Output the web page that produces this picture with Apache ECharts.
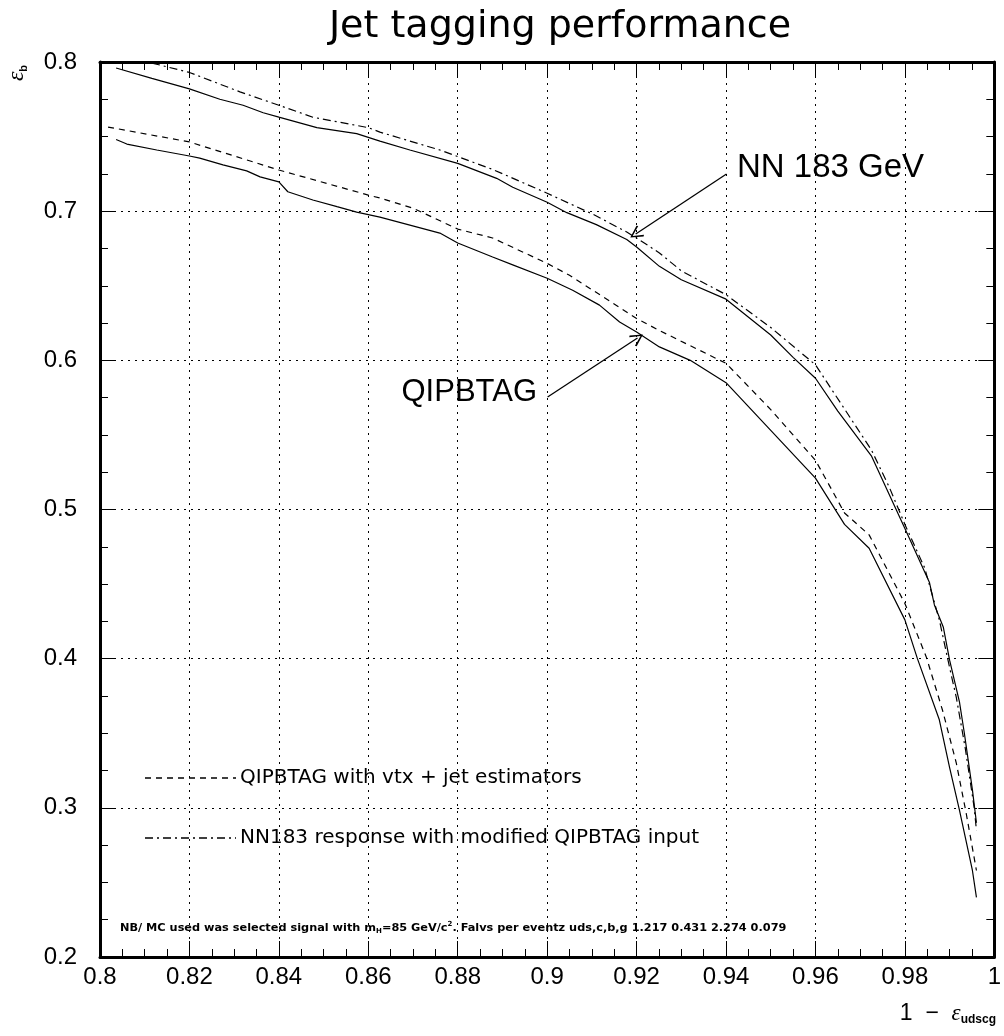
<!DOCTYPE html>
<html><head><meta charset="utf-8">
<script src="https://cdn.jsdelivr.net/npm/echarts@6/dist/echarts.min.js"></script>
<style>html,body{margin:0;padding:0;background:#fff}#c{width:1004px;height:1036px}</style>
</head><body><div id="c"></div>
<script>
// ---- data ----
const nnSolidX = [0.8036,0.8116,0.82,0.8268,0.832,0.8365,0.84,0.8485,0.8574,0.8626,0.8693,0.88,0.8887,0.8923,0.9,0.9044,0.911,0.9178,0.92,0.9251,0.93,0.94,0.95,0.955,0.96,0.965,0.9725,0.9799,0.9855,0.9866,0.9886,0.99,0.9922,0.9933,0.9951,0.996];
const nnSolidY = [0.796,0.789,0.782,0.775,0.771,0.766,0.763,0.756,0.752,0.747,0.741,0.732,0.722,0.716,0.706,0.699,0.691,0.681,0.676,0.663,0.654,0.641,0.617,0.602,0.588,0.566,0.536,0.488,0.451,0.436,0.421,0.399,0.371,0.350,0.312,0.290];

const nnModX = [0.8036,0.8116,0.82,0.8313,0.84,0.8476,0.86,0.8626,0.876,0.8878,0.9,0.9102,0.9178,0.92,0.9251,0.93,0.94,0.95,0.96,0.9725,0.9765,0.98,0.9844,0.9877,0.99,0.9915,0.9935,0.9955,0.996];
const nnModY = [0.800,0.7993,0.793,0.780,0.771,0.763,0.756,0.753,0.741,0.728,0.712,0.698,0.686,0.682,0.672,0.660,0.644,0.622,0.597,0.540,0.515,0.490,0.461,0.426,0.394,0.374,0.340,0.300,0.285];

const qipSolidX = [0.8036,0.806,0.8127,0.82,0.8223,0.8275,0.8328,0.8358,0.84,0.842,0.8476,0.853,0.8574,0.8626,0.876,0.88,0.8878,0.8923,0.9,0.9057,0.9117,0.9162,0.92,0.9251,0.932,0.94,0.95,0.96,0.9665,0.972,0.98,0.9828,0.9877,0.99,0.9922,0.9951,0.996];
const qipSolidY = [0.748,0.745,0.741,0.737,0.7356,0.731,0.727,0.723,0.7196,0.713,0.7075,0.703,0.6994,0.696,0.6853,0.6787,0.6693,0.664,0.655,0.647,0.637,0.6257,0.619,0.609,0.600,0.585,0.553,0.521,0.490,0.474,0.426,0.400,0.359,0.327,0.2985,0.258,0.240];

const qipVtxX = [0.8018,0.82,0.84,0.86,0.8626,0.87,0.88,0.8878,0.9,0.905,0.9102,0.92,0.9251,0.94,0.95,0.96,0.9665,0.972,0.98,0.9848,0.9884,0.9915,0.9937,0.996];
const qipVtxY = [0.7564,0.7464,0.7276,0.7108,0.7088,0.702,0.688,0.682,0.665,0.657,0.647,0.628,0.620,0.598,0.567,0.533,0.4977,0.483,0.437,0.401,0.3656,0.330,0.2965,0.258];

const xTicks = {min: 0.8, max: 1.0, step: 0.02};
const yTicks = {min: 0.2, max: 0.8, step: 0.1};

const titleText = 'Jet tagging performance';
const legendTexts = ['QIPBTAG with vtx + jet estimators', 'NN183 response with modified QIPBTAG input'];
const arrowNN = [[0.9401, 0.7249], [0.9198, 0.6847]];
const arrowQIP = [[0.9001, 0.5754], [0.9202, 0.6150]];
const labelNN = 'NN 183 GeV';
const labelQIP = 'QIPBTAG';

function pairs(xs, ys) { return xs.map((x, i) => [x, ys[i]]); }

const chart = echarts.init(document.getElementById('c'), null, {renderer: 'canvas'});
const chev = 'path://M5,0 L10,9 L9,10 L5,2.2 L1,10 L0,9 Z';

function axisBase() {
  return {
    type: 'value',
    axisLine: {show: true, onZero: false, lineStyle: {color: '#000', width: 3}},
    axisTick: {show: true, inside: true, length: 16, lineStyle: {color: '#000', width: 1}},
    minorTick: {show: true, splitNumber: 4, length: 8, lineStyle: {color: '#000', width: 1}},
  };
}

const tickFont = {color: '#000', fontSize: 24, fontFamily: 'Liberation Sans, Arial, sans-serif'};
const gridLine = {show: true, lineStyle: {color: '#000', width: 1, type: [2, 5]}};

chart.setOption({
  animation: false,
  backgroundColor: '#fff',
  grid: {left: 100, right: 9, top: 62, bottom: 79, containLabel: false},
  xAxis: [
    Object.assign(axisBase(), {
      gridIndex: 0, min: xTicks.min, max: xTicks.max, interval: xTicks.step, position: 'bottom',
      axisLabel: Object.assign({margin: 8, formatter: v => String(+v.toFixed(2))}, tickFont),
      splitLine: gridLine
    }),
    Object.assign(axisBase(), {
      gridIndex: 0, min: xTicks.min, max: xTicks.max, interval: xTicks.step, position: 'top',
      axisLabel: {show: false}, splitLine: {show: false}
    })
  ],
  yAxis: [
    Object.assign(axisBase(), {
      gridIndex: 0, min: yTicks.min, max: yTicks.max, interval: yTicks.step, position: 'left',
      axisLabel: Object.assign({margin: 23, formatter: v => String(+v.toFixed(1))}, tickFont),
      splitLine: gridLine
    }),
    Object.assign(axisBase(), {
      gridIndex: 0, min: yTicks.min, max: yTicks.max, interval: yTicks.step, position: 'right',
      axisLabel: {show: false}, splitLine: {show: false}
    })
  ],
  series: [
    {type: 'line', name: 'NN 183 GeV', data: pairs(nnSolidX, nnSolidY), showSymbol: false, silent: true,
     lineStyle: {color: '#000', width: 1.2, type: 'solid'},
     markLine: {silent: true, symbol: ['none', chev], symbolSize: 13, label: {show: false},
       lineStyle: {color: '#000', width: 1.3, type: 'solid'},
       data: [[{coord: arrowNN[0]}, {coord: arrowNN[1]}]]}},
    {type: 'line', name: legendTexts[1], data: pairs(nnModX, nnModY), showSymbol: false, silent: true,
     lineStyle: {color: '#000', width: 1.2, type: [8, 4, 2, 4]}},
    {type: 'line', name: 'QIPBTAG', data: pairs(qipSolidX, qipSolidY), showSymbol: false, silent: true,
     lineStyle: {color: '#000', width: 1.2, type: 'solid'},
     markLine: {silent: true, symbol: ['none', chev], symbolSize: 13, label: {show: false},
       lineStyle: {color: '#000', width: 1.3, type: 'solid'},
       data: [[{coord: arrowQIP[0]}, {coord: arrowQIP[1]}]]}},
    {type: 'line', name: legendTexts[0], data: pairs(qipVtxX, qipVtxY), showSymbol: false, silent: true,
     xAxisIndex: 1, yAxisIndex: 1,
     lineStyle: {color: '#000', width: 1.2, type: [6, 5]}}
  ],
  graphic: [
    {type: 'text', x: 560, y: 27, style: {text: titleText, fill: '#000', align: 'center', verticalAlign: 'middle',
      font: 'normal 38px "DejaVu Sans", sans-serif'}},
    {type: 'text', x: 737, y: 168, style: {text: labelNN, fill: '#000', align: 'left', verticalAlign: 'middle',
      font: 'normal 33px "Liberation Sans", Arial, sans-serif'}},
    {type: 'text', x: 537, y: 392, style: {text: labelQIP, fill: '#000', align: 'right', verticalAlign: 'middle',
      font: 'normal 31px "Liberation Sans", Arial, sans-serif'}},
    {type: 'line', shape: {x1: 145, y1: 778, x2: 236, y2: 778}, style: {stroke: '#000', lineWidth: 1.3, lineDash: [6, 5]}},
    {type: 'text', x: 240, y: 778, style: {text: legendTexts[0], fill: '#000', align: 'left', verticalAlign: 'middle',
      font: 'normal 20px "DejaVu Sans", sans-serif'}},
    {type: 'line', shape: {x1: 145, y1: 838, x2: 236, y2: 838}, style: {stroke: '#000', lineWidth: 1.3, lineDash: [8, 4, 2, 4]}},
    {type: 'text', x: 240, y: 838, style: {text: legendTexts[1], fill: '#000', align: 'left', verticalAlign: 'middle',
      font: 'normal 20px "DejaVu Sans", sans-serif'}},
    {type: 'text', x: 120, y: 928, style: {
      text: '{n|NB/ MC used was selected signal with m}{s|H}{n|=85 GeV/c}{p|2}{n|. Falvs per eventz uds,c,b,g 1.217 0.431 2.274 0.079}',
      fill: '#000', align: 'left', verticalAlign: 'middle',
      rich: {
        n: {fontSize: 11.3, fontWeight: 'bold', fontFamily: 'DejaVu Sans', fill: '#000', lineHeight: 14},
        s: {fontSize: 7, fontWeight: 'bold', fontFamily: 'DejaVu Sans', fill: '#000', verticalAlign: 'bottom', lineHeight: 14},
        p: {fontSize: 7, fontWeight: 'bold', fontFamily: 'DejaVu Sans', fill: '#000', verticalAlign: 'top', lineHeight: 14}
      }}},
    {type: 'text', x: 17, y: 73, rotation: Math.PI / 2, style: {
      text: '{e|ε}{b|b}', align: 'center', verticalAlign: 'middle',
      rich: {e: {fontSize: 24, fontFamily: 'Liberation Serif', fontStyle: 'italic', fill: '#000'},
             b: {fontSize: 11, fontWeight: 'bold', fontFamily: 'Liberation Sans', fill: '#000', verticalAlign: 'bottom'}}}},
    {type: 'text', x: 996, y: 1014, style: {
      text: '{t|1  −  }{e|ε}{u|udscg}', align: 'right', verticalAlign: 'middle',
      rich: {t: {fontSize: 23, fontFamily: 'Liberation Sans', fill: '#000'},
             e: {fontSize: 23, fontFamily: 'Liberation Serif', fontStyle: 'italic', fill: '#000'},
             u: {fontSize: 12, fontWeight: 'bold', fontFamily: 'Liberation Sans', fill: '#000', verticalAlign: 'bottom'}}}}
  ]
});
</script>
</body></html>
